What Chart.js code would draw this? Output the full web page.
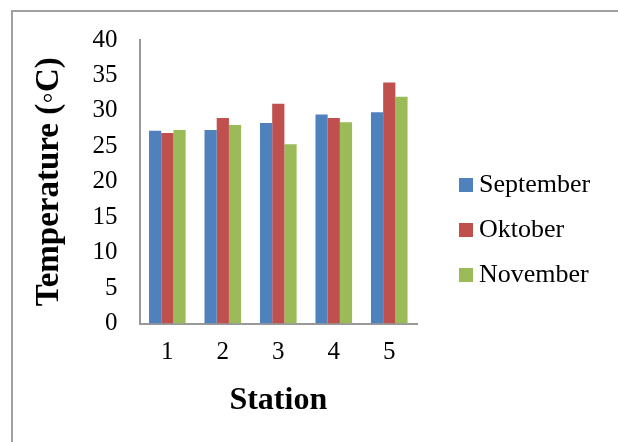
<!DOCTYPE html>
<html>
<head>
<meta charset="utf-8">
<script src="https://cdn.jsdelivr.net/npm/chart.js"></script>
<style>
  body { margin: 0; background: #fff; }
  #wrap { position: relative; width: 618px; height: 442px; overflow: hidden; }
  #frame { position: absolute; left: 11px; top: 10px; width: 620px; height: 440px; border-top: 2px solid #a0a0a0; border-left: 2px solid #a0a0a0; }
  canvas { position: absolute; left: 0; top: 0; }
</style>
</head>
<body>
<div id="wrap">
  <div id="frame"></div>
  <canvas id="grafico" width="618" height="442"></canvas>
</div>
<script>
const stations = ['1', '2', '3', '4', '5'];
const september = [27.2, 27.3, 28.3, 29.5, 29.8];
const oktober = [26.9, 29.0, 31.0, 29.0, 34.0];
const november = [27.3, 28.0, 25.3, 28.4, 32.0];
const cores = ['#4F81BD', '#C0504D', '#9BBB59'];

const fonte = 'Liberation Serif, Times New Roman, serif';

// legenda desenhada à mão, à direita do gráfico
const legendaDireita = {
  id: 'legendaDireita',
  afterDraw(chart) {
    const ctx = chart.ctx;
    ctx.save();
    ctx.font = '26px ' + fonte;
    ctx.textBaseline = 'alphabetic';
    chart.data.datasets.forEach((ds, i) => {
      const y = 185 + i * 45;
      ctx.fillStyle = ds.backgroundColor;
      ctx.fillRect(459, y - 7, 14, 14);
      ctx.fillStyle = '#000';
      ctx.fillText(ds.label, 479, y + 7);
    });
    ctx.restore();
  }
};

new Chart(document.getElementById('grafico'), {
  type: 'bar',
  data: {
    labels: stations,
    datasets: [
      { label: 'September', data: september, backgroundColor: cores[0] },
      { label: 'Oktober', data: oktober, backgroundColor: cores[1] },
      { label: 'November', data: november, backgroundColor: cores[2] }
    ]
  },
  options: {
    responsive: false,
    animation: false,
    layout: { padding: { left: 30, right: 201, top: 40, bottom: 18 } },
    datasets: { bar: { categoryPercentage: 0.66, barPercentage: 1 } },
    plugins: { legend: { display: false }, tooltip: { enabled: false } },
    scales: {
      x: {
        grid: { display: false },
        border: { color: '#999', width: 2 },
        ticks: { color: '#000', font: { family: fonte, size: 25 }, padding: 6 },
        title: { display: true, text: 'Station', color: '#000', font: { family: fonte, size: 32, weight: 'bold' }, padding: { top: 8 } }
      },
      y: {
        min: 0,
        max: 40,
        grid: { display: false },
        border: { color: '#999', width: 2 },
        ticks: { stepSize: 5, color: '#000', font: { family: fonte, size: 25 }, padding: 14 },
        title: { display: true, text: 'Temperature (\u25E6C)', color: '#000', font: { family: fonte, size: 33, weight: 'bold' }, padding: { top: 0, bottom: 9 } }
      }
    }
  },
  plugins: [legendaDireita]
});
</script>
</body>
</html>
